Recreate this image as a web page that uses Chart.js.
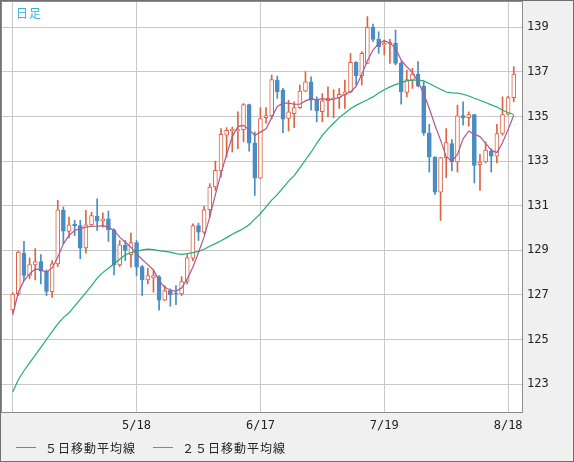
<!DOCTYPE html>
<html>
<head>
<meta charset="utf-8">
<script src="https://cdn.jsdelivr.net/npm/chart.js@4"></script>
<style>
  html, body { margin: 0; padding: 0; background: #fff; }
  #wrap { position: relative; width: 574px; height: 462px; box-sizing: border-box; border: 1px solid #707070; background: #f0f0f0; }
  #wrap canvas { position: absolute; left: 0; top: 0; }
  #ashi { position: absolute; left: 15px; top: 3px; font: 12px "Noto Sans CJK JP"; color: #3ab0e4; letter-spacing: 1px; }
  .lg-line { position: absolute; width: 20px; height: 0; border-top: 1px solid; }
  .lg-text { position: absolute; font: 12px/16px "Noto Sans CJK JP"; color: #222; letter-spacing: 1px; }
</style>
</head>
<body>
<div id="wrap">
  <canvas id="candleChart" width="572" height="460"></canvas>
  <div id="ashi">日足</div>
  <div class="lg-line" style="left:15px; top:446px; border-color:#b8648f"></div>
  <div class="lg-text" style="left:44px; top:439px">５日移動平均線</div>
  <div class="lg-line" style="left:152px; top:446px; border-color:#2fb37a"></div>
  <div class="lg-text" style="left:181px; top:439px">２５日移動平均線</div>
</div>
<script>
// daily candles, 4/18 .. 8/19
const opens = [
  126.33, 127.04, 128.87, 127.88, 128.35, 128.50, 128.06, 127.15, 128.39, 130.79,
  129.85, 130.17, 130.11, 129.11, 130.14, 130.52, 130.32, 130.41, 129.92, 128.35,
  129.22, 128.81, 129.35, 128.27, 127.67, 127.76, 127.82, 126.77, 127.19, 127.07,
  127.04, 127.60, 128.65, 130.11, 129.81, 130.82, 131.84, 132.56, 134.16, 134.35,
  134.36, 134.41, 135.54, 133.81, 132.24, 134.95, 135.03, 136.63, 136.18, 134.91,
  135.13, 135.40, 136.14, 136.56, 135.73, 135.22, 135.70, 135.80, 135.85, 135.97,
  136.11, 137.43, 136.83, 137.38, 139.00, 138.46, 138.21, 138.25, 138.28, 137.38,
  136.08, 136.63, 136.90, 136.36, 134.27, 133.19, 131.61, 133.16, 133.79, 132.96,
  135.04, 134.95, 135.09, 132.84, 132.96, 133.44, 133.22, 134.24, 135.10, 135.85
];
const highs = [
  127.10, 128.97, 129.40, 128.66, 129.08, 128.81, 128.12, 128.54, 131.24, 130.94,
  130.49, 130.34, 130.34, 130.79, 130.71, 131.31, 130.68, 130.76, 129.96, 129.44,
  129.44, 129.77, 129.44, 128.32, 128.20, 128.09, 127.87, 127.42, 127.27, 127.42,
  127.82, 128.81, 130.19, 130.22, 130.97, 131.99, 133.00, 134.46, 134.50, 134.53,
  135.21, 135.58, 135.56, 134.31, 135.40, 135.40, 136.86, 136.81, 136.26, 135.73,
  135.66, 136.41, 137.01, 136.78, 135.88, 136.03, 136.33, 136.20, 136.26, 136.63,
  137.83, 137.46, 137.91, 139.48, 139.15, 138.80, 138.43, 138.46, 138.88, 137.46,
  137.08, 137.16, 137.46, 136.56, 134.65, 133.19, 133.16, 134.46, 133.97, 135.51,
  135.66, 135.21, 135.10, 133.31, 133.86, 133.56, 134.65, 135.88, 135.91, 137.23
];
const lows = [
  126.20, 126.97, 127.64, 127.72, 127.67, 127.49, 126.97, 126.89, 128.27, 129.29,
  129.56, 129.66, 128.62, 128.87, 130.07, 129.89, 130.04, 129.40, 127.90, 128.27,
  128.54, 128.24, 127.87, 126.97, 127.49, 127.12, 126.32, 126.74, 126.49, 126.56,
  126.97, 127.49, 128.54, 129.44, 129.74, 130.49, 131.69, 132.29, 133.18, 133.41,
  133.56, 133.86, 133.45, 131.46, 132.21, 134.70, 134.90, 135.81, 134.28, 134.35,
  134.50, 135.36, 136.11, 135.28, 134.76, 134.76, 134.98, 134.95, 135.36, 135.36,
  136.06, 136.41, 136.41, 137.38, 138.36, 137.83, 137.76, 137.38, 137.31, 135.55,
  135.88, 136.26, 136.33, 134.16, 132.51, 131.51, 130.34, 132.26, 132.56, 132.51,
  134.61, 134.56, 132.02, 131.69, 132.92, 132.51, 132.92, 134.16, 135.06, 135.66
];
const closes = [
  127.04, 128.92, 127.88, 128.36, 128.50, 128.06, 127.16, 128.39, 130.82, 129.86,
  130.14, 130.11, 129.10, 130.14, 130.56, 130.31, 130.41, 129.92, 128.35, 129.25,
  128.99, 129.35, 128.24, 127.67, 127.87, 127.87, 126.77, 127.19, 127.01, 127.04,
  127.60, 128.66, 130.11, 129.81, 130.82, 131.84, 132.59, 134.20, 134.38, 134.43,
  134.41, 135.54, 133.81, 132.24, 134.91, 135.04, 136.66, 136.11, 134.88, 135.21,
  135.40, 136.14, 136.56, 135.73, 135.25, 135.70, 135.81, 135.84, 135.99, 136.11,
  137.43, 136.83, 137.83, 139.00, 138.46, 138.13, 138.28, 138.32, 137.38, 136.10,
  136.66, 136.90, 136.36, 134.27, 133.19, 131.61, 133.16, 133.83, 132.96, 135.03,
  134.94, 135.09, 132.81, 132.96, 133.49, 133.22, 134.24, 135.09, 135.85, 136.90
];

// moving averages
const ma5 = [
  126.10, 127.12, 127.64, 127.94, 128.17, 128.12, 128.02, 128.21, 128.69, 129.29,
  129.67, 129.89, 129.97, 130.04, 130.08, 130.08, 130.11, 130.04, 129.89, 129.59,
  129.36, 129.14, 128.84, 128.59, 128.36, 128.12, 127.64, 127.34, 127.22, 127.16,
  127.31, 127.72, 128.24, 128.90, 129.60, 130.50, 131.50, 132.45, 133.30, 134.10,
  134.55, 134.60, 134.40, 134.15, 134.30, 134.45, 134.95, 135.45, 135.60, 135.60,
  135.55, 135.55, 135.70, 135.80, 135.75, 135.80, 135.75, 135.78, 135.85, 136.00,
  136.10, 136.35, 136.90, 137.50, 137.98, 138.28, 138.40, 138.30, 138.06, 137.53,
  137.23, 136.98, 136.56, 136.03, 135.36, 134.61, 133.94, 133.20, 133.00, 133.30,
  134.00, 134.35, 134.20, 134.10, 133.80, 133.50, 133.38, 133.82, 134.42, 135.06
];
const ma25 = [
  122.65, 123.20, 123.60, 123.95, 124.30, 124.65, 125.00, 125.35, 125.70, 125.98,
  126.20, 126.50, 126.80, 127.10, 127.42, 127.75, 128.00, 128.20, 128.40, 128.60,
  128.80, 128.90, 128.96, 129.02, 129.05, 129.03, 128.99, 128.95, 128.92, 128.85,
  128.82, 128.85, 128.90, 128.95, 129.05, 129.18, 129.30, 129.43, 129.57, 129.72,
  129.85, 129.98, 130.15, 130.40, 130.64, 130.95, 131.25, 131.50, 131.80, 132.10,
  132.35, 132.70, 133.05, 133.40, 133.80, 134.15, 134.45, 134.70, 134.95, 135.15,
  135.35, 135.50, 135.63, 135.75, 135.88, 136.05, 136.20, 136.33, 136.43, 136.52,
  136.60, 136.63, 136.63, 136.60, 136.48, 136.35, 136.22, 136.10, 136.06, 136.05,
  136.00, 135.92, 135.82, 135.73, 135.63, 135.52, 135.43, 135.28, 135.18, 135.09
];

// x ticks are candle indices, labels are the dates at those gridlines
const tickIdx = [0, 22, 44, 66, 88];
const tickLabels = ['', '5/18', '6/17', '7/19', '8/18'];
const yTicks = [123, 125, 127, 129, 131, 133, 135, 137, 139];

const upColor = '#dc6446';
const downColor = '#4a8cc4';
const isUp = closes.map((c, i) => c >= opens[i]);

const plotFrame = {
  id: 'plotFrame',
  beforeDraw(chart) {
    const { ctx, chartArea: a } = chart;
    ctx.save();
    ctx.fillStyle = '#ffffff';
    ctx.fillRect(a.left, a.top, a.width, a.height);
    ctx.restore();
  },
  afterDraw(chart) {
    const { ctx, chartArea: a } = chart;
    ctx.save();
    ctx.strokeStyle = '#8c8c8c';
    ctx.lineWidth = 1;
    ctx.strokeRect(a.left + 0.5, a.top + 0.5, a.width - 1, a.height);
    ctx.restore();
  }
};

const ctx = document.getElementById('candleChart').getContext('2d');

new Chart(ctx, {
  type: 'bar',
  data: {
    datasets: [
      {
        type: 'line',
        label: '５日移動平均線',
        data: ma5.map((v, i) => ({ x: i, y: v })),
        borderColor: '#b0588a',
        borderWidth: 1.2,
        pointRadius: 0,
        order: 0
      },
      {
        type: 'line',
        label: '２５日移動平均線',
        data: ma25.map((v, i) => ({ x: i, y: v })),
        borderColor: '#22ad72',
        borderWidth: 1.2,
        pointRadius: 0,
        order: 0
      },
      {
        label: 'body',
        data: opens.map((o, i) => ({ x: i, y: [o, closes[i]] })),
        backgroundColor: isUp.map(u => u ? '#ffffff' : downColor),
        borderColor: isUp.map(u => u ? upColor : downColor),
        borderWidth: 1,
        borderSkipped: false,
        barThickness: 4,
        grouped: false,
        order: 1
      },
      {
        label: 'wick',
        data: lows.map((l, i) => ({ x: i, y: [l, highs[i]] })),
        backgroundColor: isUp.map(u => u ? upColor : downColor),
        borderWidth: 0,
        barThickness: 1,
        grouped: false,
        order: 2
      }
    ]
  },
  options: {
    responsive: false,
    animation: false,
    events: [],
    layout: { padding: 0 },
    plugins: {
      legend: { display: false },
      tooltip: { enabled: false }
    },
    scales: {
      x: {
        type: 'linear',
        min: -2.08,
        max: 90.64,
        offset: false,
        grid: { color: '#c8c8c8', drawTicks: false, offset: false },
        border: { display: false },
        ticks: {
          autoSkip: false,
          maxRotation: 0,
          padding: 7,
          color: '#222',
          font: { family: 'DejaVu Sans Mono', size: 12 },
          callback: (v, i) => tickLabels[i]
        },
        afterBuildTicks: s => { s.ticks = tickIdx.map(v => ({ value: v })); },
        afterFit: s => { s.height = 49; s.paddingLeft = 0; s.paddingRight = 0; }
      },
      y: {
        position: 'right',
        min: 121.75,
        max: 140.18,
        grid: { color: '#c8c8c8', drawTicks: false },
        border: { display: false },
        ticks: {
          padding: 4,
          color: '#222',
          font: { family: 'DejaVu Sans Mono', size: 12 }
        },
        afterBuildTicks: s => { s.ticks = yTicks.map(v => ({ value: v })); },
        afterFit: s => { s.width = 50; s.paddingTop = 0; s.paddingBottom = 0; }
      }
    }
  },
  plugins: [plotFrame]
});
</script>
</body>
</html>
